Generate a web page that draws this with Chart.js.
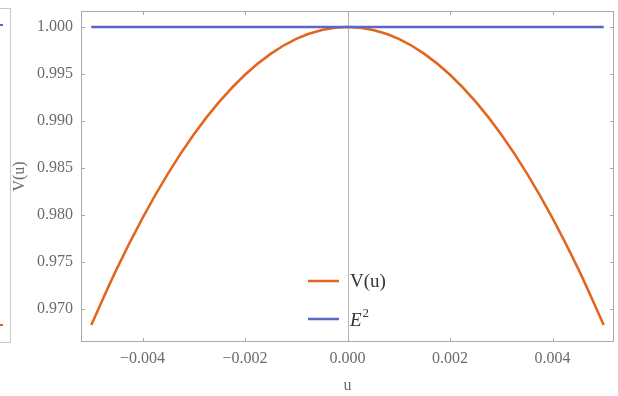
<!DOCTYPE html>
<html>
<head>
<meta charset="utf-8">
<script src="https://cdn.jsdelivr.net/npm/chart.js@4"></script>
<style>
  html, body { margin: 0; padding: 0; background: #fff; }
  #wrap { position: relative; width: 618px; height: 396px; }
  /* edge of the neighbouring panel */
  #edge { position: absolute; left: 0; top: 8px; width: 10px; height: 333px;
          border-top: 1px solid #c8c8c8; border-right: 1px solid #c8c8c8; border-bottom: 1px solid #c8c8c8; }
  .stub { position: absolute; left: 0; width: 3px; height: 2px; }
</style>
</head>
<body>
<div id="wrap">
  <canvas id="potentialChart"></canvas>
  <div id="edge"></div>
  <div class="stub" style="top:24px;background:#5a67c4"></div>
  <div class="stub" style="top:324px;background:#e3651d"></div>
</div>
<script>
// sampled potential V(u) around u = 0
const uValues = [-0.005, -0.0045, -0.004, -0.0035, -0.003, -0.0025, -0.002, -0.0015, -0.001, -0.0005, 0,
                 0.0005, 0.001, 0.0015, 0.002, 0.0025, 0.003, 0.0035, 0.004, 0.0045, 0.005];
const vValues = [0.9683, 0.97430, 0.97968, 0.98444, 0.98857, 0.99206, 0.99492, 0.99714, 0.99873, 0.99968, 1.0000,
                 0.99968, 0.99873, 0.99714, 0.99492, 0.99206, 0.98857, 0.98444, 0.97968, 0.97430, 0.9683];
// energy level E^2
const eU = [-0.005, 0.005];
const eSquared = [1.0, 1.0];

const xTicks = [-0.004, -0.002, 0, 0.002, 0.004];
const yTicks = [0.970, 0.975, 0.980, 0.985, 0.990, 0.995, 1.000];

const orange = '#e3651d';
const blue = '#5a67c4';
const frameColor = '#a9a9a9';
const labelColor = '#6b6b6b';
const serif = "'Liberation Serif', 'DejaVu Serif', serif";

// frame box around the plot area, with short inward ticks and the u = 0 axis line
const framePlugin = {
  id: 'frame',
  beforeDatasetsDraw(chart) {
    const { ctx, chartArea: a, scales } = chart;
    ctx.save();
    ctx.strokeStyle = '#b8b8b8';
    ctx.lineWidth = 1;
    const x0 = Math.round(scales.x.getPixelForValue(0)) + 0.5;
    ctx.beginPath();
    ctx.moveTo(x0, a.top);
    ctx.lineTo(x0, a.bottom);
    ctx.stroke();
    ctx.restore();
  },
  afterDraw(chart) {
    const { ctx, chartArea: a, scales } = chart;
    ctx.save();
    ctx.strokeStyle = frameColor;
    ctx.lineWidth = 1;
    ctx.strokeRect(a.left + 0.5, a.top + 0.5, a.right - a.left - 1, a.bottom - a.top - 1);
    ctx.beginPath();
    xTicks.forEach(v => {
      const px = Math.round(scales.x.getPixelForValue(v)) + 0.5;
      ctx.moveTo(px, a.bottom); ctx.lineTo(px, a.bottom - 4);
      ctx.moveTo(px, a.top); ctx.lineTo(px, a.top + 4);
    });
    yTicks.forEach(v => {
      const py = Math.round(scales.y.getPixelForValue(v)) + 0.5;
      ctx.moveTo(a.left, py); ctx.lineTo(a.left + 4, py);
      ctx.moveTo(a.right, py); ctx.lineTo(a.right - 4, py);
    });
    ctx.stroke();
    ctx.restore();
  }
};

// legend drawn inside the plot, E^2 needs a superscript
const legendPlugin = {
  id: 'insideLegend',
  afterDraw(chart) {
    const { ctx, chartArea: a } = chart;
    const x = a.left + 227;
    const rows = [
      { color: orange, y: a.top + 270 },
      { color: blue, y: a.top + 308 }
    ];
    ctx.save();
    rows.forEach(r => {
      ctx.strokeStyle = r.color;
      ctx.lineWidth = 2.5;
      ctx.beginPath();
      ctx.moveTo(x, r.y);
      ctx.lineTo(x + 31, r.y);
      ctx.stroke();
    });
    ctx.fillStyle = '#333';
    ctx.textBaseline = 'middle';
    ctx.font = '19px ' + serif;
    ctx.fillText('V(u)', x + 42, rows[0].y + 1);
    ctx.font = 'italic 19px ' + serif;
    ctx.fillText('E', x + 42, rows[1].y + 2);
    const w = ctx.measureText('E').width;
    ctx.font = '13px ' + serif;
    ctx.fillText('2', x + 43 + w, rows[1].y - 5);
    ctx.restore();
  }
};

const ctx = document.getElementById('potentialChart').getContext('2d');
new Chart(ctx, {
  type: 'line',
  data: {
    datasets: [
      {
        label: 'V(u)',
        data: uValues.map((u, i) => ({ x: u, y: vValues[i] })),
        borderColor: orange,
        borderWidth: 2.5,
        pointRadius: 0,
        tension: 0.4,
        fill: false,
        order: 2
      },
      {
        label: 'E²',
        data: eU.map((u, i) => ({ x: u, y: eSquared[i] })),
        borderColor: blue,
        borderWidth: 2.5,
        pointRadius: 0,
        fill: false,
        order: 1
      }
    ]
  },
  options: {
    responsive: true,
    maintainAspectRatio: false,
    animation: false,
    layout: { padding: { left: 0, top: 11, right: 4, bottom: 0 } },
    plugins: {
      legend: { display: false },
      tooltip: { enabled: false }
    },
    scales: {
      x: {
        type: 'linear',
        min: -0.0052,
        max: 0.0052,
        afterBuildTicks: scale => { scale.ticks = xTicks.map(v => ({ value: v })); },
        afterFit: scale => { scale.height = 54; scale.paddingLeft = 0; scale.paddingRight = 0; },
        grid: { display: false, drawTicks: false },
        border: { display: false },
        ticks: {
          padding: 7,
          color: labelColor,
          font: { family: serif, size: 16 },
          maxRotation: 0,
          callback: v => v.toFixed(3).replace('-', '\u2212')
        },
        title: {
          display: true,
          text: 'u',
          color: labelColor,
          font: { family: serif, size: 16 },
          padding: { top: 0, bottom: 1 }
        }
      },
      y: {
        type: 'linear',
        min: 0.9665,
        max: 1.0017,
        afterBuildTicks: scale => { scale.ticks = yTicks.map(v => ({ value: v })); },
        afterFit: scale => { scale.width = 81; scale.paddingTop = 0; scale.paddingBottom = 0; },
        grid: { display: false, drawTicks: false },
        border: { display: false },
        ticks: {
          padding: 8,
          color: labelColor,
          font: { family: serif, size: 16 },
          callback: v => v.toFixed(3)
        },
        title: {
          display: true,
          text: 'V(u)',
          color: labelColor,
          font: { family: serif, size: 16 },
          padding: { top: 10, bottom: 0 }
        }
      }
    }
  },
  plugins: [framePlugin, legendPlugin]
});
</script>
</body>
</html>
